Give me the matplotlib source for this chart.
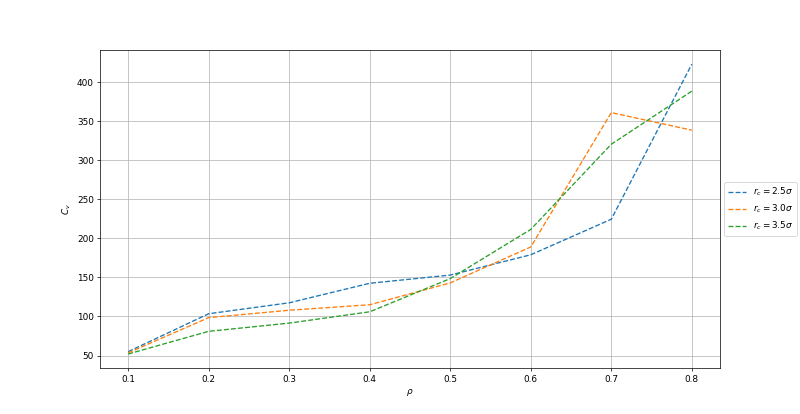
import matplotlib
matplotlib.use("Agg")
import matplotlib.pyplot as plt

# densité réduite et capacité calorifique pour trois rayons de coupure
rho = [0.1, 0.2, 0.3, 0.4, 0.5, 0.6, 0.7, 0.8]
cv_25 = [55, 103.5, 117.5, 142.5, 153, 179, 224.5, 423]
cv_30 = [53.5, 98.5, 108, 115, 143, 189, 361, 338.5]
cv_35 = [52, 81, 91.5, 106, 148.5, 211.5, 320.5, 388.5]

dpi = 64
plt.figure(figsize=(800/dpi, 414/dpi), dpi=dpi)
plt.plot(rho, cv_25, "--", label=r"$r_c = 2.5\sigma$")
plt.plot(rho, cv_30, "--", label=r"$r_c = 3.0\sigma$")
plt.plot(rho, cv_35, "--", label=r"$r_c = 3.5\sigma$")
plt.xlabel(r"$\rho$")
plt.ylabel(r"$C_v$")
plt.grid()
plt.legend(loc="center left", bbox_to_anchor=(1, 0.5))
plt.savefig("out.png", dpi=dpi)
